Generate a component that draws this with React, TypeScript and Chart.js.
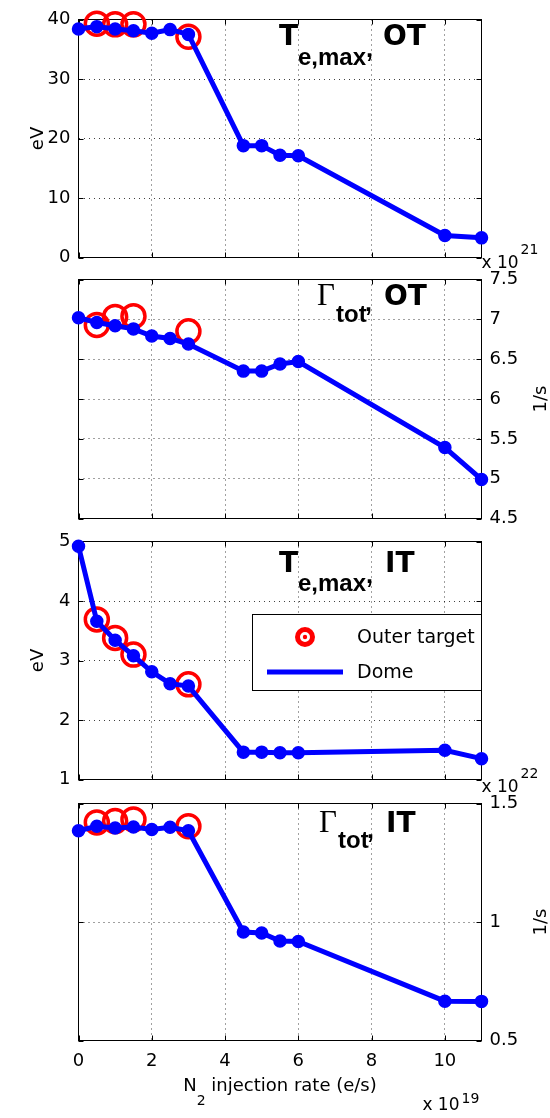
import React, { useEffect, useRef } from 'react';
import { Chart, registerables } from 'chart.js';

Chart.register(...registerables);

// ---------- data ----------
const injectionRate = [0, 0.5, 1, 1.5, 2, 2.5, 3, 4.5, 5, 5.5, 6, 10, 11];
const outerRate = [0.5, 1, 1.5, 3];

const teOTDome = [38.4, 38.8, 38.4, 38.1, 37.7, 38.3, 37.5, 18.8, 18.8, 17.2, 17.1, 3.7, 3.3];
const teOTOuter = [39.3, 39.2, 39.2, 37.1];

const gammaOTDome = [7.02, 6.96, 6.92, 6.88, 6.79, 6.76, 6.69, 6.35, 6.35, 6.44, 6.47, 5.39, 4.99];
const gammaOTOuter = [6.93, 7.03, 7.04, 6.85];

const teITDome = [4.92, 3.66, 3.34, 3.08, 2.81, 2.61, 2.57, 1.46, 1.46, 1.45, 1.45, 1.49, 1.35];
const teITOuter = [3.69, 3.38, 3.1, 2.6];

const gammaITDome = [1.385, 1.404, 1.397, 1.401, 1.39, 1.4, 1.385, 0.958, 0.954, 0.92, 0.918, 0.666, 0.665];
const gammaITOuter = [1.42, 1.426, 1.433, 1.404];

const legendLabels = ['Outer target', 'Dome'];
const xAxisTitle = { main: 'N', sub: '2', rest: ' injection rate (e/s)' };
const xExponent = '19';

// ---------- layout ----------
const W = 550;
const H = 1118;
const LEFT = 78.5;
const RIGHT = 481.5;
const X_AXIS_H = 40;
const FONT = 'DejaVu Sans';
const BLUE = '#0000ff';
const RED = '#ff0000';

type TitlePart = { text: string; x: number; y: number; font: string };

interface PanelSpec {
  key: string;
  top: number;
  bottom: number;
  side: 'left' | 'right';
  yMin: number;
  yMax: number;
  yStep: number;
  dome: number[];
  outer: number[];
  yTitle: string;
  title: TitlePart[];
  exponent?: string;
  showX: boolean;
  legend: boolean;
}

const bigB = `bold 28px "${FONT}"`;
const subB = 'bold 24px "Liberation Sans"';
const commaB = 'bold 25px "Liberation Sans"';
const gam = '31px "Liberation Serif"';

const panels: PanelSpec[] = [
  {
    key: 'p1', top: 19.5, bottom: 257.5, side: 'left', yMin: 0, yMax: 40, yStep: 10,
    dome: teOTDome, outer: teOTOuter, yTitle: 'eV', showX: false, legend: false,
    title: [
      { text: 'T', x: 279, y: 45, font: bigB },
      { text: 'e,max', x: 298, y: 65, font: subB },
      { text: ',', x: 366, y: 57, font: commaB },
      { text: 'OT', x: 383, y: 45, font: bigB },
    ],
  },
  {
    key: 'p2', top: 279.5, bottom: 518.5, side: 'right', yMin: 4.5, yMax: 7.5, yStep: 0.5,
    dome: gammaOTDome, outer: gammaOTOuter, yTitle: '1/s', exponent: '21', showX: false, legend: false,
    title: [
      { text: 'Γ', x: 317, y: 305, font: gam },
      { text: 'tot', x: 336, y: 322, font: subB },
      { text: ',', x: 365, y: 311, font: commaB },
      { text: 'OT', x: 384, y: 305, font: bigB },
    ],
  },
  {
    key: 'p3', top: 541.5, bottom: 779.5, side: 'left', yMin: 1, yMax: 5, yStep: 1,
    dome: teITDome, outer: teITOuter, yTitle: 'eV', showX: false, legend: true,
    title: [
      { text: 'T', x: 279, y: 572, font: bigB },
      { text: 'e,max', x: 298, y: 591, font: subB },
      { text: ',', x: 366, y: 583, font: commaB },
      { text: 'IT', x: 385, y: 572, font: bigB },
    ],
  },
  {
    key: 'p4', top: 803.5, bottom: 1040.5, side: 'right', yMin: 0.5, yMax: 1.5, yStep: 0.5,
    dome: gammaITDome, outer: gammaITOuter, yTitle: '1/s', exponent: '22', showX: true, legend: false,
    title: [
      { text: 'Γ', x: 319, y: 832, font: gam },
      { text: 'tot', x: 338, y: 848, font: subB },
      { text: ',', x: 367, y: 838, font: commaB },
      { text: 'IT', x: 386, y: 832, font: bigB },
    ],
  },
];

function decorPlugin(p: PanelSpec) {
  return {
    id: 'decor_' + p.key,
    beforeDatasetsDraw(chart: any) {
      const ctx = chart.ctx as CanvasRenderingContext2D;
      const a = chart.chartArea;
      const xs = chart.scales.x;
      const ys = chart.scales.y;
      ctx.save();
      ctx.setLineDash([]);
      ctx.strokeStyle = '#000';
      ctx.lineWidth = 1;
      ctx.strokeRect(a.left, a.top, a.right - a.left, a.bottom - a.top);
      ctx.beginPath();
      xs.ticks.forEach((t: any) => {
        const px = Math.round(xs.getPixelForValue(t.value)) + 0.5;
        ctx.moveTo(px, a.bottom);
        ctx.lineTo(px, a.bottom - 5);
        ctx.moveTo(px, a.top);
        ctx.lineTo(px, a.top + 5);
      });
      ys.ticks.forEach((t: any) => {
        const py = Math.round(ys.getPixelForValue(t.value)) + 0.5;
        ctx.moveTo(a.left, py);
        ctx.lineTo(a.left + 5, py);
        ctx.moveTo(a.right, py);
        ctx.lineTo(a.right - 5, py);
      });
      ctx.stroke();
      ctx.restore();
    },
    afterDraw(chart: any) {
      const ctx = chart.ctx as CanvasRenderingContext2D;
      const a = chart.chartArea;
      ctx.save();
      ctx.fillStyle = '#000';
      ctx.textAlign = 'left';
      ctx.textBaseline = 'alphabetic';
      // title
      p.title.forEach((t) => {
        ctx.font = t.font;
        ctx.fillText(t.text, t.x, t.y);
      });
      // y axis title (rotated, reads bottom-to-top)
      ctx.font = `18px "${FONT}"`;
      const cy = (a.top + a.bottom) / 2;
      ctx.save();
      ctx.translate(p.side === 'left' ? 43 : 546, cy);
      ctx.rotate(-Math.PI / 2);
      ctx.textAlign = 'center';
      ctx.fillText(p.yTitle, 0, 0);
      ctx.restore();
      // y exponent above the panel
      if (p.exponent) {
        ctx.font = `17px "${FONT}"`;
        const base = 'x 10';
        const bx = a.right;
        ctx.fillText(base, bx, a.top - 11.5);
        const bw = ctx.measureText(base).width;
        ctx.font = `14px "${FONT}"`;
        ctx.fillText(p.exponent, bx + bw + 2, a.top - 26);
      }
      // x axis title + exponent
      if (p.showX) {
        const mainF = `18px "${FONT}"`;
        const subF = `14px "${FONT}"`;
        ctx.font = mainF;
        const w1 = ctx.measureText(xAxisTitle.main).width;
        const w3 = ctx.measureText(xAxisTitle.rest).width;
        ctx.font = subF;
        const w2 = ctx.measureText(xAxisTitle.sub).width;
        const total = w1 + w2 + w3;
        let x0 = (a.left + a.right) / 2 - total / 2;
        ctx.font = mainF;
        ctx.fillText(xAxisTitle.main, x0, 1091);
        x0 += w1;
        ctx.font = subF;
        ctx.fillText(xAxisTitle.sub, x0, 1105);
        x0 += w2;
        ctx.font = mainF;
        ctx.fillText(xAxisTitle.rest, x0, 1091);

        ctx.font = `17px "${FONT}"`;
        const base = 'x 10';
        const bw = ctx.measureText(base).width;
        const ex = a.right - bw - 22;
        ctx.fillText(base, ex, 1110);
        ctx.font = `14px "${FONT}"`;
        ctx.fillText(xExponent, ex + bw + 2, 1103);
      }
      // legend
      if (p.legend) {
        const lx = 252.5;
        const ly = 614.5;
        const lw = a.right - lx;
        const lh = 76;
        ctx.fillStyle = '#fff';
        ctx.fillRect(lx, ly, lw, lh);
        ctx.strokeStyle = '#000';
        ctx.lineWidth = 1;
        ctx.setLineDash([]);
        ctx.strokeRect(lx, ly, lw, lh);
        // ring marker
        ctx.strokeStyle = RED;
        ctx.lineWidth = 5;
        ctx.beginPath();
        ctx.arc(305, 637, 7.5, 0, Math.PI * 2);
        ctx.stroke();
        ctx.fillStyle = RED;
        ctx.beginPath();
        ctx.arc(305, 637, 2.2, 0, Math.PI * 2);
        ctx.fill();
        // line marker
        ctx.strokeStyle = BLUE;
        ctx.lineWidth = 5;
        ctx.beginPath();
        ctx.moveTo(267, 672);
        ctx.lineTo(343, 672);
        ctx.stroke();
        ctx.fillStyle = '#000';
        ctx.font = `19px "${FONT}"`;
        ctx.fillText(legendLabels[0], 357, 643);
        ctx.fillText(legendLabels[1], 357, 678);
      }
      ctx.restore();
    },
  };
}

function buildConfig(p: PanelSpec): any {
  const tickFont = { family: FONT, size: 18 };
  const gridColor = 'rgba(0,0,0,0.75)';
  const xH = p.showX ? X_AXIS_H : 0;
  return {
    type: 'scatter',
    data: {
      datasets: [
        {
          label: legendLabels[1],
          data: injectionRate.map((x, i) => ({ x, y: p.dome[i] })),
          showLine: true,
          borderColor: BLUE,
          backgroundColor: BLUE,
          borderWidth: 5,
          pointRadius: 6,
          pointBorderWidth: 1.5,
          pointBackgroundColor: BLUE,
          pointBorderColor: BLUE,
          pointHoverRadius: 6,
          clip: false,
          order: 0,
        },
        {
          label: legendLabels[0],
          data: outerRate.map((x, i) => ({ x, y: p.outer[i] })),
          showLine: false,
          borderColor: RED,
          backgroundColor: 'rgba(0,0,0,0)',
          pointRadius: 11.5,
          pointBorderWidth: 3.5,
          pointBorderColor: RED,
          pointBackgroundColor: 'rgba(0,0,0,0)',
          pointHoverRadius: 11.5,
          clip: false,
          order: 1,
        },
      ],
    },
    options: {
      responsive: false,
      animation: false,
      devicePixelRatio: 1,
      events: [],
      layout: {
        padding: {
          left: p.side === 'left' ? 0 : LEFT,
          right: p.side === 'left' ? W - RIGHT : 0,
          top: p.top,
          bottom: H - p.bottom - xH,
        },
      },
      plugins: {
        legend: { display: false },
        tooltip: { enabled: false },
        title: { display: false },
      },
      scales: {
        x: {
          type: 'linear',
          position: 'bottom',
          min: 0,
          max: 11,
          ticks: {
            stepSize: 2,
            includeBounds: false,
            display: p.showX,
            font: tickFont,
            color: '#000',
            padding: 10,
            maxRotation: 0,
            minRotation: 0,
            autoSkip: false,
          },
          grid: { color: gridColor, lineWidth: 1, drawTicks: false },
          border: { display: false, dash: [1, 4] },
          afterFit: (s: any) => {
            s.height = xH;
          },
        },
        y: {
          type: 'linear',
          position: p.side,
          min: p.yMin,
          max: p.yMax,
          ticks: {
            stepSize: p.yStep,
            font: tickFont,
            color: '#000',
            padding: 8,
            callback: (v: any) => String(v),
          },
          grid: { color: gridColor, lineWidth: 1, drawTicks: false },
          border: { display: false, dash: [1, 4] },
          afterFit: (s: any) => {
            s.width = p.side === 'left' ? LEFT : W - RIGHT;
          },
        },
      },
    },
    plugins: [decorPlugin(p)],
  };
}

function Panel({ spec }: { spec: PanelSpec }) {
  const ref = useRef<HTMLCanvasElement>(null);
  useEffect(() => {
    if (!ref.current) return;
    const chart = new Chart(ref.current, buildConfig(spec));
    return () => chart.destroy();
  }, [spec]);
  return (
    <canvas
      ref={ref}
      width={W}
      height={H}
      style={{ position: 'absolute', left: 0, top: 0, width: W, height: H, display: 'block' }}
    />
  );
}

export default function App() {
  return (
    <div style={{ position: 'absolute', left: 0, top: 0, width: W, height: H, background: '#fff' }}>
      {panels.map((p) => (
        <Panel key={p.key} spec={p} />
      ))}
    </div>
  );
}
